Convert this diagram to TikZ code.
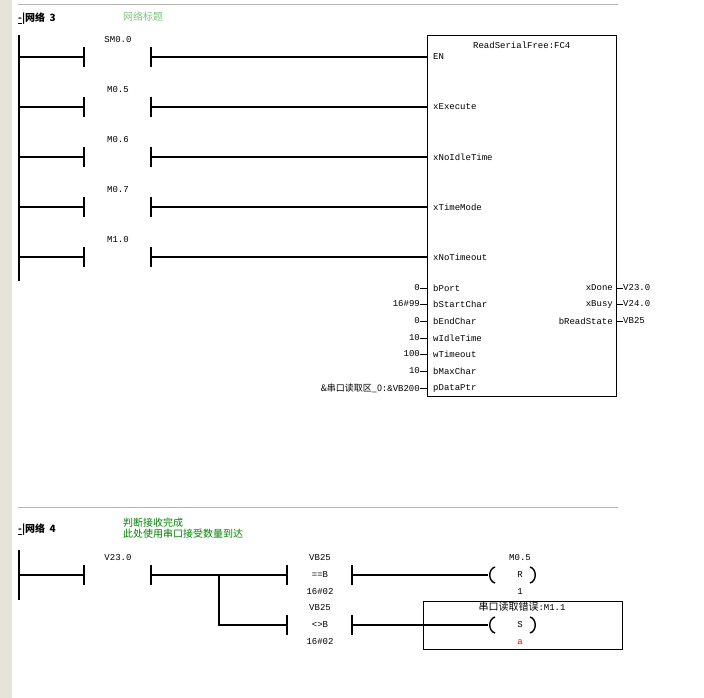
\documentclass[tikz,border=0pt]{standalone}
\usepackage{fontspec}
\setmonofont{Liberation Mono}
\newfontfamily\cjk{Noto Sans CJK SC}
\usetikzlibrary{positioning,calc}
\definecolor{railgray}{HTML}{E6E4D8}
\definecolor{sepgray}{HTML}{B4B4B4}
\definecolor{titlegreen}{HTML}{7CC47C}
\definecolor{cmtgreen}{HTML}{008000}
\tikzset{
  every node/.style={inner sep=0pt},
  lbl/.style={font=\ttfamily\fontsize{9}{10}\selectfont},
  cjklbl/.style={font=\cjk\fontsize{10}{11}\selectfont},
  wire/.style={line width=1.4pt},
  thin wire/.style={line width=0.6pt},
  bar/.style={line width=1.6pt}
}
\begin{document}
\begin{tikzpicture}[x=1pt,y=-1pt]
    \useasboundingbox (0,0) rectangle (704,698);
    \fill[railgray] (0,0) rectangle (12,698);
    % separators
    \coordinate (s3a) at (18,4);
    \coordinate (s3b) at (618,4);
    \draw[sepgray] (s3a) -- (s3b);
    \coordinate (s4a) at (18,507);
    \coordinate (s4b) at (618,507);
    \draw[sepgray] (s4a) -- (s4b);

    % network 3 header
    \node[anchor=west,font=\cjk\bfseries\fontsize{10}{11}\selectfont] (net3) at (18,19) {\underline{-}|网络\ \ 3};
    \node[anchor=west,cjklbl,text=titlegreen] (title3) at (123,17) {网络标题};

    \coordinate (rail3t) at (19,35);
    \coordinate (rail3b) at (19,281);
    \draw[wire] (rail3t) -- (rail3b);

    % FC4 box
    \node[draw,thin wire,minimum width=189pt,minimum height=361pt,anchor=north west] (fc) at (427,35) {};
    \node[lbl,above=-14pt of fc.north] (fcname) {ReadSerialFree:FC4};

    \foreach \y/\c/\p in {57/SM0.0/EN,107/M0.5/xExecute,157/M0.6/xNoIdleTime,207/M0.7/xTimeMode,257/M1.0/xNoTimeout}{
        \coordinate (l\y) at (84,\y);
        \coordinate (r\y) at (151,\y);
        \draw[wire] (19,\y) -- (l\y);
        \draw[bar] ($(l\y)+(0,-10)$) -- ($(l\y)+(0,10)$);
        \draw[bar] ($(r\y)+(0,-10)$) -- ($(r\y)+(0,10)$);
        \draw[wire] (r\y) -- (427,\y);
        \node[lbl] (c\y) at (118,\y-17) {\c};
        \node[lbl,anchor=west] (p\y) at (433,\y) {\p};
    }

    \foreach \y/\v/\p in {288/0/bPort,304/16\#99/bStartChar,321/0/bEndChar,338/10/wIdleTime,354/100/wTimeout,371/10/bMaxChar}{
        \node[lbl,anchor=west] (in\y) at (433,\y) {\p};
        \node[lbl,anchor=east] (v\y) at (420,\y) {\v};
        \draw[thin wire] (v\y.east) -- (427,\y);
    }
    \node[lbl,anchor=west] (in388) at (433,388) {pDataPtr};
    \node[anchor=east] (v388) at (420,388) {{\cjk\fontsize{9}{10}\selectfont \&串口读取区\_0}\ttfamily\fontsize{9}{10}\selectfont:\&VB200};
    \draw[thin wire] (v388.east) -- (427,388);

    \foreach \y/\p/\v in {288/xDone/V23.0,304/xBusy/V24.0,321/bReadState/VB25}{
        \node[lbl,anchor=east] (out\y) at (613,\y) {\p};
        \node[lbl,anchor=west] (o\y) at (623,\y) {\v};
        \draw[thin wire] (616,\y) -- (o\y.west);
    }

    % network 4 header
    \node[anchor=west,font=\cjk\bfseries\fontsize{10}{11}\selectfont] (net4) at (18,530) {\underline{-}|网络\ \ 4};
    \node[anchor=west,cjklbl,text=cmtgreen,align=left] (cmt4) at (123,528) {判断接收完成\\此处使用串口接受数量到达};

    \coordinate (rail4t) at (19,550);
    \coordinate (rail4b) at (19,600);
    \draw[wire] (rail4t) -- (rail4b);

    \coordinate (ka) at (84,575);
    \coordinate (kb) at (151,575);
    \coordinate (br) at (219,575);
    \coordinate (bd) at (219,625);
    \draw[wire] (19,575) -- (ka);
    \draw[bar] ($(ka)+(0,-10)$) -- ($(ka)+(0,10)$);
    \draw[bar] ($(kb)+(0,-10)$) -- ($(kb)+(0,10)$);
    \node[lbl] (k4) at (118,558) {V23.0};
    \draw[wire] (kb) -- (287,575);
    \draw[wire] (br) -- (bd) -- (287,625);

    \foreach \y/\op/\coil/\n in {575/==B/R/1,625/<>B/S/2}{
        \draw[bar] (287,\y-10) -- (287,\y+10);
        \draw[bar] (352,\y-10) -- (352,\y+10);
        \node[lbl] (cmp\n a) at (320,\y-17) {VB25};
        \node[lbl] (cmp\n b) at (320,\y) {\op};
        \node[lbl] (cmp\n c) at (320,\y+17) {16\#02};
        \draw[wire] (352,\y) -- (488,\y);
        \draw[wire] (495,\y-8) .. controls (488,\y-6) and (488,\y+6) .. (495,\y+8);
        \draw[wire] (530,\y-8) .. controls (537,\y-6) and (537,\y+6) .. (530,\y+8);
        \node[lbl] (coil\n) at (520,\y) {\coil};
    }
    \node[lbl] (m05) at (520,558) {M0.5};
    \node[lbl] (one) at (520,592) {1};
    \node[draw,thin wire,minimum width=199pt,minimum height=48pt,anchor=north west] (errbox) at (423,601) {};
    \node[anchor=north] (errname) at (522,602) {{\cjk\fontsize{10}{11}\selectfont 串口读取错误}\ttfamily\fontsize{9}{10}\selectfont:M1.1};
    \node[lbl,text=red] (aa) at (520,642) {a};
\end{tikzpicture}
\end{document}
